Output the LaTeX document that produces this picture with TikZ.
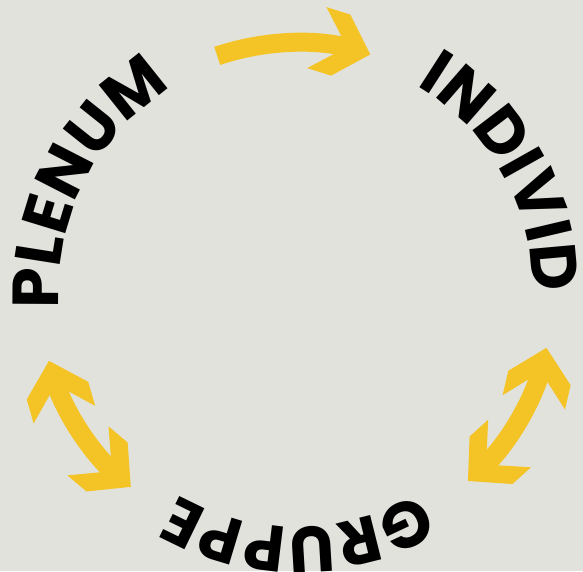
\documentclass[tikz,border=0pt]{standalone}
\usepackage{fontspec}
\usepackage{tikz}
\usetikzlibrary{arrows.meta,decorations.text}
\newfontfamily\ringfont{Poppins}[UprightFont=*-Bold]
\definecolor{bgrey}{RGB}{225,226,220}
\definecolor{ryellow}{RGB}{244,196,38}
\pgfdeclarearrow{
   name = Chevron,
   setup code = {
      \pgfarrowssettipend{0pt}
      \pgfarrowssetbackend{-56pt}
      \pgfarrowssetlineend{-18pt}
      \pgfarrowshullpoint{0pt}{0pt}
      \pgfarrowshullpoint{-31pt}{32pt}
      \pgfarrowshullpoint{-56pt}{32pt}
      \pgfarrowshullpoint{-31pt}{-32pt}
      \pgfarrowshullpoint{-56pt}{-32pt}
   },
   drawing code = {
      \pgfpathmoveto{\pgfqpoint{0pt}{0pt}}
      \pgfpathlineto{\pgfqpoint{-31pt}{32pt}}
      \pgfpathlineto{\pgfqpoint{-56pt}{32pt}}
      \pgfpathlineto{\pgfqpoint{-24.5pt}{0pt}}
      \pgfpathlineto{\pgfqpoint{-56pt}{-32pt}}
      \pgfpathlineto{\pgfqpoint{-31pt}{-32pt}}
      \pgfpathclose
      \pgfusepathqfill
   }
}
\tikzset{%
   lbl/.style={
      decorate,
      decoration={
         text along path,
         text align=center,
         text={|\ringfont\fontsize{65}{65}\selectfont|#1}
      }
   },
   arr/.style={
      draw=ryellow,
      line width=19pt,
      -Chevron
   },
   darr/.style={
      arr,
      Chevron-Chevron
   },
}
\begin{document}
\begin{tikzpicture}[x=1pt, y=1pt]
   \fill[bgrey] (0,0) rectangle (583,571);
   \useasboundingbox (0,0) rectangle (583,571);
   \coordinate (c) at (296,281);
   \path[lbl=PLENUM] (c) ++(193:237) arc[start angle=193, end angle=113, radius=237];
   \path[lbl=INDIVID] (c) ++(70:237) arc[start angle=70, end angle=-11, radius=237];
   \path[lbl=GRUPPE] (c) ++(-49:237) arc[start angle=-49, end angle=-130, radius=237];
   \draw[arr] (c) ++(108.6:247) arc[start angle=108.6, end angle=72.5, radius=247];
   \draw[darr] (c) ++(-13:257) arc[start angle=-13, end angle=-48, radius=257];
   \draw[darr] (c) ++(196:257) arc[start angle=196, end angle=230, radius=257];
\end{tikzpicture}
\end{document}
